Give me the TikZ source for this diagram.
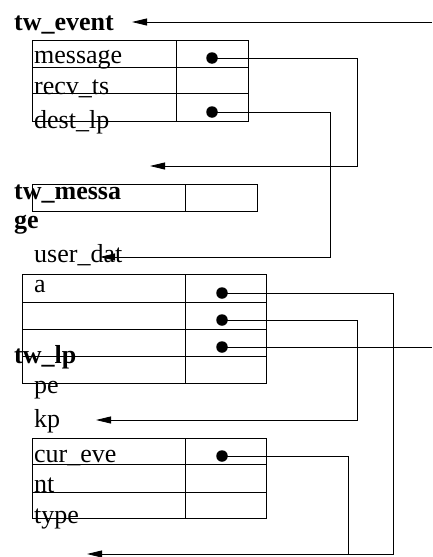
\documentclass[tikz,border=0pt]{standalone}
\usepackage{fontspec}
\setmainfont{Liberation Serif}
\usetikzlibrary{arrows.meta}
\begin{document}
\begin{tikzpicture}[x=1pt,y=-1pt,
  lbl/.style={anchor=base west,inner sep=0pt,font=\fontsize{26}{30}\selectfont},
  hdr/.style={anchor=base west,inner sep=0pt,font=\fontsize{26}{30}\selectfont\bfseries},
  tbl/.style={line width=0.8pt},
  ptr/.style={line width=0.8pt},
  arr/.style={ptr,-{Triangle[length=15pt,width=7pt]}},
  pdot/.style={circle,fill,inner sep=0pt,minimum size=11.5pt}]
\useasboundingbox (0,0) rectangle (432,557);

% ---- tw_event ----
\node[hdr] (hev) at (14,30) {tw\_event};
\draw[tbl] (32,40) rectangle (248,121);
\draw[tbl] (32,67) -- (248,67) (32,93) -- (248,93) (176,40) -- (176,121);
\node[lbl] (lmsg) at (34,63) {message};
\node[lbl] (lrecv) at (34,94) {recv\_ts};
\node[lbl] (ldest) at (34,128) {dest\_lp};
\node[pdot] (dmsg) at (212,58) {};
\node[pdot] (ddest) at (212,112) {};

% ---- tw_message ----
\draw[tbl] (32,184) rectangle (257,211);
\draw[tbl] (185,184) -- (185,211);
\node[hdr] (hmsg) at (14,199) {tw\_messa};
\node[hdr] (hmsg2) at (14,228) {ge};
\node[lbl] (luser) at (34,262) {user\_dat};

% ---- tw_lp table ----
\draw[tbl] (22,274) rectangle (266,383);
\draw[tbl] (22,302) -- (266,302) (22,329) -- (266,329) (22,356) -- (266,356) (185,274) -- (185,383);
\node[lbl] (la) at (34,292) {a};
\node[pdot] (da) at (222,293) {};
\node[pdot] (db) at (222,320) {};
\node[pdot] (dc) at (222,347) {};
\node[hdr] (hlp) at (14,363) {tw\_lp};
\node[lbl] (lpe) at (34,393) {pe};
\node[lbl] (lkp) at (34,427) {kp};

% ---- cur_eve table ----
\draw[tbl] (32,438) rectangle (266,518);
\draw[tbl] (32,464) -- (266,464) (32,492) -- (266,492) (185,438) -- (185,518);
\node[lbl] (lcur) at (34,462) {cur\_eve};
\node[lbl] (lnt) at (34,492) {nt};
\node[lbl] (ltype) at (34,523) {type};
\node[pdot] (dcur) at (222,456) {};

% ---- connector end points ----
\coordinate (srcTop) at (432,22);
\coordinate (tipTop) at (132,22);
\coordinate (k1) at (357,166);
\coordinate (t1) at (150,166);
\coordinate (k2) at (330,257);
\coordinate (t2) at (100,257);
\coordinate (ka) at (393,554);
\coordinate (ta) at (87,554);
\coordinate (kb) at (357,420);
\coordinate (tb) at (96,420);
\coordinate (ec) at (432,347);
\coordinate (kcur) at (348,554);

% ---- connectors ----
\draw[arr] (srcTop) -- (tipTop);
\draw[arr] (dmsg.center) -| (k1) -- (t1);
\draw[arr] (ddest.center) -| (k2) -- (t2);
\draw[arr] (da.center) -| (ka) -- (ta);
\draw[arr] (db.center) -| (kb) -- (tb);
\draw[ptr] (dc.center) -- (ec);
\draw[ptr] (dcur.center) -| (kcur);
\end{tikzpicture}
\end{document}
